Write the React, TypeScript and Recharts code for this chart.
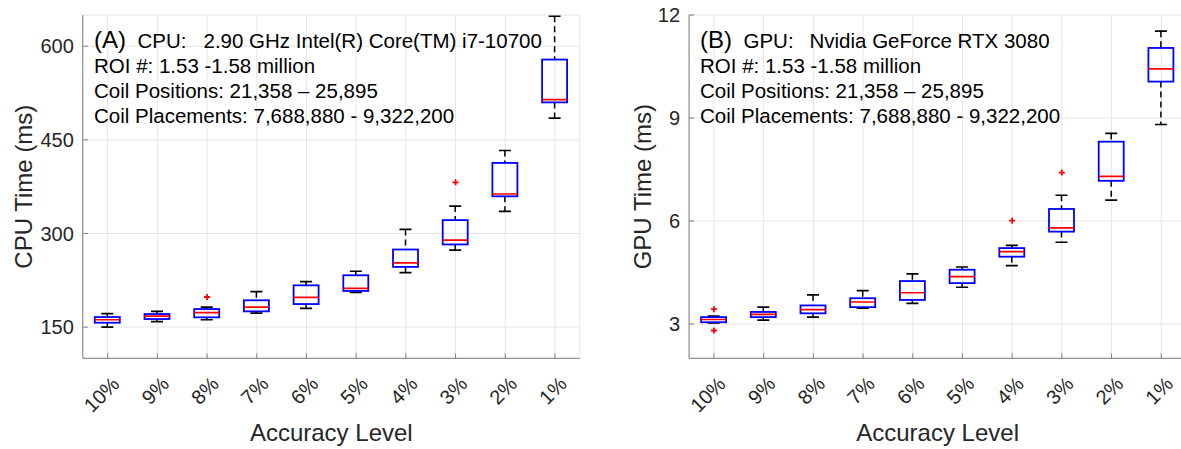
import React from 'react';
import { Bar, CartesianGrid, ComposedChart, Scatter, XAxis, YAxis } from 'recharts';

const levels = ['10%', '9%', '8%', '7%', '6%', '5%', '4%', '3%', '2%', '1%'];

// CPU time (ms)
const cpuMin = [150, 158.6, 161.8, 172.5, 180, 205.7, 237.4, 273.2, 335.4, 484.8];
const cpuQ1 = [157, 162.9, 165.6, 175.2, 186.9, 207.9, 246.4, 282.4, 359.5, 510];
const cpuMed = [161.8, 167.7, 173.1, 182.1, 197.7, 212.1, 252.8, 289.3, 363.2, 514.3];
const cpuQ3 = [166.1, 170.9, 178.9, 192.9, 216.9, 233, 274.3, 321.4, 413, 578.6];
const cpuMax = [171.5, 175.2, 182.1, 206.8, 222.9, 239.5, 306.4, 343.9, 432.9, 648];
const cpuOutHi = [null, null, 198.2, null, null, null, null, 382, null, null];
const cpuOutLo = [null, null, null, null, null, null, null, null, null, null];
const cpuTicks = [150, 300, 450, 600];

// GPU time (ms)
const gpuMin = [3.03, 3.11, 3.2, 3.46, 3.6, 4.07, 4.7, 5.38, 6.61, 8.81];
const gpuQ1 = [3.05, 3.2, 3.31, 3.49, 3.7, 4.19, 4.96, 5.69, 7.17, 10.06];
const gpuMed = [3.13, 3.28, 3.42, 3.64, 3.91, 4.38, 5.11, 5.8, 7.3, 10.43];
const gpuQ3 = [3.2, 3.35, 3.54, 3.75, 4.25, 4.58, 5.21, 6.35, 8.31, 11.04];
const gpuMax = [3.23, 3.49, 3.85, 3.97, 4.46, 4.66, 5.29, 6.75, 8.55, 11.53];
const gpuOutHi = [3.43, null, null, null, null, null, 6.01, 7.41, null, null];
const gpuOutLo = [2.81, null, null, null, null, null, null, null, null, null];
const gpuTicks = [3, 6, 9, 12];

const AXIS = '#7f7f7f';
const TXT = '#262626';
const FONT = '"Liberation Sans", Arial, sans-serif';

const buildRows = (mn: number[], q1: number[], md: number[], q3: number[], mx: number[], hi: (number | null)[], lo: (number | null)[]) =>
  levels.map((level, i) => ({
    level,
    min: mn[i],
    q1: q1[i],
    med: md[i],
    q3: q3[i],
    max: mx[i],
    outHi: hi[i],
    outLo: lo[i],
  }));

const cpuRows = buildRows(cpuMin, cpuQ1, cpuMed, cpuQ3, cpuMax, cpuOutHi, cpuOutLo);
const gpuRows = buildRows(gpuMin, gpuQ1, gpuMed, gpuQ3, gpuMax, gpuOutHi, gpuOutLo);

// box drawn inside the range bar [min, max]
const BoxShape = (props: any) => {
  const { x, y, width, height, payload } = props;
  const hi = payload.max;
  const lo = payload.min;
  const py = (v: number) => y + ((hi - v) / (hi - lo)) * height;
  const cx = x + width / 2;
  const cap = 6;
  return (
    <g>
      <line x1={cx} x2={cx} y1={py(hi)} y2={py(payload.q3)} stroke="#000" strokeWidth={1.5} strokeDasharray="6 4" />
      <line x1={cx} x2={cx} y1={py(payload.q1)} y2={py(lo)} stroke="#000" strokeWidth={1.5} strokeDasharray="6 4" />
      <line x1={cx - cap} x2={cx + cap} y1={py(hi)} y2={py(hi)} stroke="#000" strokeWidth={1.7} />
      <line x1={cx - cap} x2={cx + cap} y1={py(lo)} y2={py(lo)} stroke="#000" strokeWidth={1.7} />
      <rect x={x} y={py(payload.q3)} width={width} height={py(payload.q1) - py(payload.q3)} fill="none" stroke="#0000ff" strokeWidth={1.8} />
      <line x1={x} x2={x + width} y1={py(payload.med)} y2={py(payload.med)} stroke="#ff0000" strokeWidth={1.7} />
    </g>
  );
};

const makePlus = (key: string) => (props: any) => {
  const { cx, cy, payload } = props;
  if (payload == null || payload[key] == null) return <g />;
  return (
    <g>
      <line x1={cx - 3} x2={cx + 3} y1={cy} y2={cy} stroke="#ff0000" strokeWidth={1.8} />
      <line x1={cx} x2={cx} y1={cy - 3} y2={cy + 3} stroke="#ff0000" strokeWidth={1.8} />
    </g>
  );
};
const PlusHi = makePlus('outHi');
const PlusLo = makePlus('outLo');

const XTick = (props: any) => {
  const { x, y, payload } = props;
  return (
    <text transform={`translate(${x + 13},${y + 27}) rotate(-45)`} textAnchor="end" fontSize={20} fill={TXT}>
      {payload.value}
    </text>
  );
};
const NoTick = () => <g />;

interface PanelProps {
  rows: any[];
  domain: number[];
  ticks: number[];
  yLabel: string;
  width: number;
  marginLeft: number;
  yLabelOffset: number;
  tag: string;
  device: string;
  deviceName: string;
  tx: number;
}

const Panel: React.FC<PanelProps> = ({ rows, domain, ticks, yLabel, width, marginLeft, yLabelOffset, tag, device, deviceName, tx }) => {
  const plotW = 497;
  const right = width - marginLeft - 60 - plotW;
  return (
    <ComposedChart width={width} height={449} data={rows} margin={{ top: 15, right, bottom: 0.7, left: marginLeft }}>
      <CartesianGrid stroke="#e6e6e6" />
      <XAxis
        dataKey="level"
        interval={0}
        height={90}
        tickSize={-5}
        tickMargin={5}
        tick={<XTick />}
        axisLine={{ stroke: AXIS }}
        tickLine={{ stroke: AXIS }}
        label={{ value: 'Accuracy Level', position: 'insideBottom', offset: 7, fontSize: 24, fill: TXT }}
      />
      <XAxis xAxisId="top" orientation="top" dataKey="level" interval={0} height={0} tickSize={-5} tick={NoTick} axisLine={{ stroke: AXIS }} tickLine={{ stroke: AXIS }} />
      <YAxis
        type="number"
        domain={domain}
        ticks={ticks}
        allowDataOverflow
        width={60}
        tickSize={-5}
        tickMargin={14}
        tick={{ fontSize: 20, fill: TXT }}
        axisLine={{ stroke: AXIS }}
        tickLine={{ stroke: AXIS }}
        label={{ value: yLabel, angle: -90, position: 'insideLeft', offset: yLabelOffset, fontSize: 24, fill: TXT, style: { textAnchor: 'middle' } }}
      />
      <YAxis yAxisId="right" orientation="right" type="number" domain={domain} ticks={ticks} allowDataOverflow width={0} tickSize={-5} tick={NoTick} axisLine={{ stroke: AXIS }} tickLine={{ stroke: AXIS }} />
      <Bar dataKey={(d: any) => [d.min, d.max]} barSize={25} shape={<BoxShape />} isAnimationActive={false} />
      <Scatter dataKey="outHi" shape={PlusHi} isAnimationActive={false} />
      <Scatter dataKey="outLo" shape={PlusLo} isAnimationActive={false} />
      <text x={tx} y={48} fill="#000" fontSize={24}>{tag}</text>
      <text x={tx + 43.5} y={48} fill="#000" fontSize={20.5}>{device}</text>
      <text x={tx + 109.5} y={48} fill="#000" fontSize={20.5}>{deviceName}</text>
      <text x={tx} y={73} fill="#000" fontSize={20.5}>ROI #: 1.53 -1.58 million</text>
      <text x={tx} y={98} fill="#000" fontSize={20.5}>Coil Positions: 21,358 – 25,895</text>
      <text x={tx} y={123} fill="#000" fontSize={20.5}>Coil Placements: 7,688,880 - 9,322,200</text>
    </ComposedChart>
  );
};

export default function App() {
  return (
    <div style={{ position: 'absolute', left: 0, top: 0, width: 1181, height: 449, overflow: 'hidden', background: '#fff', fontFamily: FONT }}>
      <div style={{ position: 'absolute', left: 0, top: 0 }}>
        <Panel
          rows={cpuRows}
          domain={[100, 650]}
          ticks={cpuTicks}
          yLabel="CPU Time (ms)"
          width={600}
          marginLeft={22.8}
          yLabelOffset={1}
          tag="(A)"
          device="CPU:"
          deviceName="2.90 GHz Intel(R) Core(TM) i7-10700"
          tx={94}
        />
      </div>
      <div style={{ position: 'absolute', left: 590, top: 0 }}>
        <Panel
          rows={gpuRows}
          domain={[2, 12]}
          ticks={gpuTicks}
          yLabel="GPU Time (ms)"
          width={610}
          marginLeft={39.1}
          yLabelOffset={13}
          tag="(B)"
          device="GPU:"
          deviceName="Nvidia GeForce RTX 3080"
          tx={110}
        />
      </div>
    </div>
  );
}
